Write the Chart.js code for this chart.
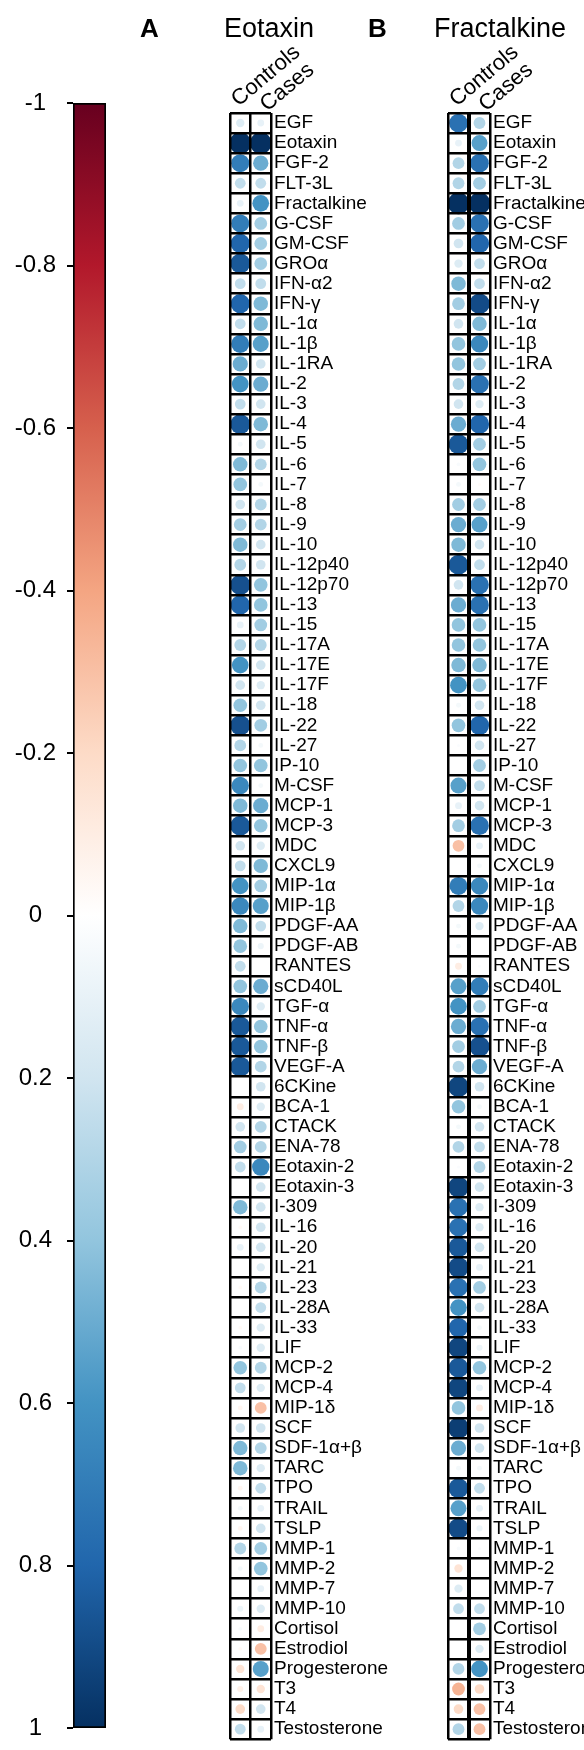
<!DOCTYPE html>
<html>
<head>
<meta charset="utf-8">
<script src="https://cdn.jsdelivr.net/npm/chart.js@4.4.0/dist/chart.umd.min.js"></script>
<style>
  body { margin: 0; background: #fff; }
  #page { position: relative; width: 584px; height: 1750px; }
  canvas { position: absolute; top: 0; }
</style>
</head>
<body>
<div id="page">
  <canvas id="scale" width="120" height="1750" style="left:0"></canvas>
  <canvas id="panelA" width="250" height="1750" style="left:140px"></canvas>
  <canvas id="panelB" width="224" height="1750" style="left:360px"></canvas>
</div>
<script>
const rows = ['EGF', 'Eotaxin', 'FGF-2', 'FLT-3L', 'Fractalkine', 'G-CSF', 'GM-CSF', 'GROα', 'IFN-α2', 'IFN-γ',
  'IL-1α', 'IL-1β', 'IL-1RA', 'IL-2', 'IL-3', 'IL-4', 'IL-5', 'IL-6', 'IL-7', 'IL-8',
  'IL-9', 'IL-10', 'IL-12p40', 'IL-12p70', 'IL-13', 'IL-15', 'IL-17A', 'IL-17E', 'IL-17F', 'IL-18',
  'IL-22', 'IL-27', 'IP-10', 'M-CSF', 'MCP-1', 'MCP-3', 'MDC', 'CXCL9', 'MIP-1α', 'MIP-1β',
  'PDGF-AA', 'PDGF-AB', 'RANTES', 'sCD40L', 'TGF-α', 'TNF-α', 'TNF-β', 'VEGF-A', '6CKine', 'BCA-1',
  'CTACK', 'ENA-78', 'Eotaxin-2', 'Eotaxin-3', 'I-309', 'IL-16', 'IL-20', 'IL-21', 'IL-23', 'IL-28A',
  'IL-33', 'LIF', 'MCP-2', 'MCP-4', 'MIP-1δ', 'SCF', 'SDF-1α+β', 'TARC', 'TPO', 'TRAIL',
  'TSLP', 'MMP-1', 'MMP-2', 'MMP-7', 'MMP-10', 'Cortisol', 'Estrodiol', 'Progesterone', 'T3', 'T4',
  'Testosterone'];
const groups = ['Controls', 'Cases'];

// correlation with Eotaxin
const eotaxinControls = [0.15, 1, 0.7, 0.25, 0.1, 0.7, 0.8, 0.85, 0.25, 0.8,
  0.25, 0.7, 0.5, 0.6, 0.25, 0.85, 0.05, 0.45, 0.4, 0.2,
  0.35, 0.45, 0.3, 0.88, 0.8, 0.1, 0.3, 0.6, 0.2, 0.4,
  0.88, 0.3, 0.4, 0.65, 0.45, 0.85, 0.2, 0.25, 0.6, 0.65,
  0.45, 0.4, 0.25, 0.4, 0.65, 0.85, 0.85, 0.85, 0, -0.1,
  0.2, 0.35, 0.25, 0, 0.45, -0.03, 0.1, 0, -0.03, 0,
  -0.03, 0.03, 0.4, 0.25, -0.05, 0.2, 0.45, 0.45, -0.05, 0.05,
  -0.05, 0.3, 0.05, 0, 0.08, 0.03, -0.03, -0.15, -0.08, -0.2,
  0.25];
const eotaxinCases = [0.1, 1, 0.5, 0.25, 0.6, 0.35, 0.35, 0.35, 0.25, 0.45,
  0.45, 0.55, 0.2, 0.5, 0.2, 0.45, 0.2, 0.3, 0.05, 0.3,
  0.3, 0.2, 0.2, 0.4, 0.4, 0.35, 0.3, 0.2, 0.15, 0.2,
  0.35, 0.05, 0.4, 0.05, 0.5, 0.4, 0.15, 0.45, 0.35, 0.55,
  0.25, 0.08, 0, 0.5, 0.15, 0.4, 0.4, 0.3, 0.2, 0.15,
  0.3, 0.3, 0.65, 0.2, 0.2, 0.2, 0.2, 0.15, 0.3, 0.25,
  0.15, 0.15, 0.3, 0.15, -0.3, 0.2, 0.3, 0.15, 0.25, 0.1,
  0.2, 0.35, 0.4, 0.1, 0.15, -0.1, -0.3, 0.55, -0.15, 0.2,
  0.1];

// correlation with Fractalkine
const fractalkineControls = [0.75, 0.1, 0.3, 0.3, 1, 0.35, 0.2, 0.15, 0.45, 0.35,
  0.2, 0.4, 0.4, 0.3, 0.2, 0.5, 0.85, 0.03, 0.05, 0.35,
  0.5, 0.45, 0.85, 0.2, 0.5, 0.4, 0.4, 0.45, 0.6, 0.05,
  0.4, 0.02, 0, 0.55, 0.1, 0.35, -0.3, 0, 0.7, 0.3,
  0.05, 0.05, -0.1, 0.55, 0.6, 0.5, 0.35, 0.3, 0.92, 0.4,
  0.05, 0.3, 0.02, 0.92, 0.75, 0.75, 0.85, 0.9, 0.75, 0.6,
  0.8, 0.92, 0.85, 0.92, 0.4, 0.95, 0.5, 0.05, 0.85, 0.55,
  0.9, 0.03, -0.15, 0.15, 0.25, 0, 0, 0.3, -0.35, -0.2,
  0.3];
const fractalkineCases = [0.3, 0.55, 0.75, 0.35, 1, 0.75, 0.8, 0.25, 0.25, 0.9,
  0.45, 0.65, 0.35, 0.75, 0.15, 0.8, 0.35, 0.4, -0.02, 0.35,
  0.55, 0.2, 0.25, 0.75, 0.75, 0.4, 0.4, 0.45, 0.4, 0.2,
  0.8, 0.2, 0.35, 0.25, 0.2, 0.75, 0.1, 0.05, 0.65, 0.65,
  0.15, 0, 0.02, 0.7, 0.35, 0.75, 0.88, 0.5, 0.2, 0.05,
  0.2, 0.25, 0.3, 0.2, 0.15, 0.15, 0.2, 0.1, 0.35, 0.2,
  0.05, 0.08, 0.4, 0.1, -0.1, 0.2, 0.2, 0.05, 0.25, 0.1,
  0.08, 0.02, 0, 0, 0.25, 0.35, 0.15, 0.6, -0.2, -0.3,
  -0.3];

// RdBu ramp, -1 .. 1
const palette = ['#67001F', '#B2182B', '#D6604D', '#F4A582', '#FDDBC7', '#FFFFFF',
  '#D1E5F0', '#92C5DE', '#4393C3', '#2166AC', '#053061'];

const SANS = '"Liberation Sans", Arial, Helvetica, sans-serif';
const NARROW = '"Liberation Sans Narrow", "Arial Narrow", sans-serif';
const CELL_R = 10.8;
const GRID_TOP = 113;
const GRID_BOTTOM = 1745;

Chart.defaults.font.family = SANS;
Chart.defaults.color = '#000';

function hexRgb(h) {
  return [1, 3, 5].map(i => parseInt(h.slice(i, i + 2), 16));
}

function corrColor(v) {
  const t = (v + 1) / 2 * (palette.length - 1);
  const i = Math.min(Math.floor(t), palette.length - 2);
  const f = t - i;
  const a = hexRgb(palette[i]);
  const b = hexRgb(palette[i + 1]);
  const c = a.map((x, k) => Math.round(x + (b[k] - x) * f));
  return `rgb(${c[0]},${c[1]},${c[2]})`;
}

const headings = {
  id: 'headings',
  afterDraw(chart, args, opts) {
    const ctx = chart.ctx;
    ctx.save();
    ctx.fillStyle = '#000';
    ctx.textBaseline = 'alphabetic';
    ctx.font = 'bold 26px ' + SANS;
    ctx.fillText(opts.letter, opts.letterX, opts.baseline);
    ctx.font = '27px ' + SANS;
    ctx.fillText(opts.title, opts.titleX, opts.baseline);
    ctx.restore();
  }
};

// colour key
new Chart(document.getElementById('scale'), {
  type: 'bar',
  data: {
    labels: [''],
    datasets: [{
      data: [[-1, 1]],
      backgroundColor: (c) => {
        const area = c.chart.chartArea;
        if (!area) return '#fff';
        const g = c.chart.ctx.createLinearGradient(0, area.top, 0, area.bottom);
        palette.forEach((col, i) => g.addColorStop(i / (palette.length - 1), col));
        return g;
      },
      borderColor: '#000',
      borderWidth: 2,
      borderSkipped: false,
      barPercentage: 1,
      categoryPercentage: 1
    }]
  },
  options: {
    responsive: false,
    animation: false,
    events: [],
    layout: { padding: { top: 103, bottom: 22, left: 0, right: 14 } },
    plugins: { legend: { display: false }, tooltip: { enabled: false } },
    scales: {
      x: { display: false },
      y: {
        min: -1,
        max: 1,
        reverse: true,
        position: 'left',
        grid: { drawOnChartArea: false, color: '#000', lineWidth: 2, tickLength: 6 },
        border: { display: false },
        ticks: {
          stepSize: 0.2,
          font: { size: 24 },
          padding: 11,
          crossAlign: 'center',
          callback: (v) => String(Math.round(v * 10) / 10)
        },
        afterFit: (s) => { s.width = 73; s.paddingTop = 0; s.paddingBottom = 0; }
      }
    }
  }
});

function panel(id, controls, cases, left, width, innerLeft, innerRight, head, midLine) {
  const points = [];
  rows.forEach((name, i) => {
    points.push({ x: groups[0], y: name, v: controls[i], r: CELL_R * Math.sqrt(Math.abs(controls[i])) });
    points.push({ x: groups[1], y: name, v: cases[i], r: CELL_R * Math.sqrt(Math.abs(cases[i])) });
  });
  const yAxisWidth = width - (innerRight - left);
  return new Chart(document.getElementById(id), {
    type: 'bubble',
    data: {
      datasets: [{
        data: points,
        backgroundColor: (c) => (c.raw ? corrColor(c.raw.v) : '#fff'),
        borderWidth: 0
      }]
    },
    options: {
      responsive: false,
      animation: false,
      events: [],
      layout: {
        padding: { top: 0, bottom: 1750 - GRID_BOTTOM, left: innerLeft - left, right: 0 }
      },
      plugins: { legend: { display: false }, tooltip: { enabled: false }, headings: head },
      scales: {
        x: {
          type: 'category',
          labels: groups,
          position: 'top',
          offset: true,
          grid: { offset: true, color: '#000', lineWidth: (c) => (c.index === 1 ? midLine : 2.5), drawTicks: false, z: 1 },
          border: { display: false },
          ticks: {
            // the two rotated headers sit a little further apart than the columns
            font: (c) => ({ size: 22, lineHeight: c.index === 0 ? 1.39 : 0.8 }),
            minRotation: 40,
            maxRotation: 40,
            padding: -1,
            labelOffset: 14,
            autoSkip: false
          },
          afterFit: (s) => { s.height = GRID_TOP; s.paddingLeft = 0; s.paddingRight = 0; }
        },
        y: {
          type: 'category',
          labels: rows,
          position: 'right',
          offset: true,
          grid: { offset: true, color: '#000', lineWidth: 2.5, drawTicks: false, z: 1 },
          border: { display: false },
          ticks: { font: { family: NARROW, size: 19, lineHeight: 1 }, padding: 3, autoSkip: false },
          afterFit: (s) => { s.width = yAxisWidth; s.paddingTop = 0; s.paddingBottom = 0; }
        }
      }
    },
    plugins: [headings]
  });
}

panel('panelA', eotaxinControls, eotaxinCases, 140, 250, 230, 271,
  { letter: 'A', title: 'Eotaxin', letterX: 0, titleX: 84, baseline: 37 }, 2.5);
panel('panelB', fractalkineControls, fractalkineCases, 360, 224, 448, 490,
  { letter: 'B', title: 'Fractalkine', letterX: 8, titleX: 74, baseline: 37 }, 4);
</script>
</body>
</html>
